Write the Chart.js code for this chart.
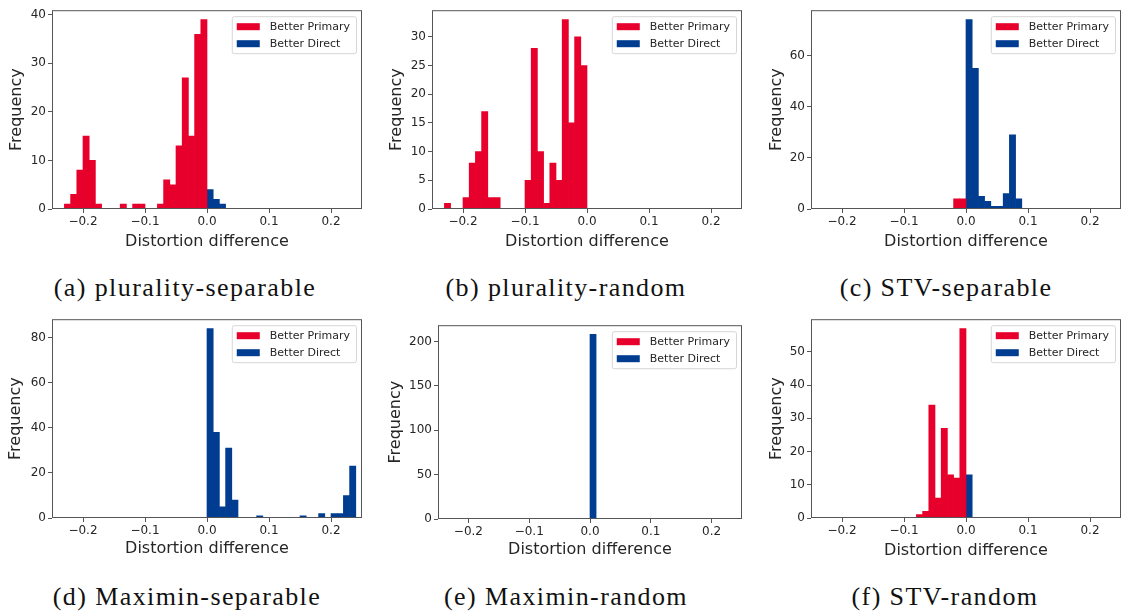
<!DOCTYPE html>
<html>
<head>
<meta charset="utf-8">
<script src="https://cdn.jsdelivr.net/npm/chart.js@4.4.1/dist/chart.umd.min.js"></script>
<style>
  body { margin: 0; background: #fff; width: 1122px; height: 613px; position: relative; overflow: hidden; }
  .panel { position: absolute; }
  .cap { position: absolute; width: 360px; height: 30px; line-height: 30px; text-align: center;
         font-family: "Liberation Serif", serif; font-size: 26px; letter-spacing: 1.4px; color: #111; white-space: nowrap; }
</style>
</head>
<body>
<script>
// histogram bins: left edge of each 0.01-wide bin and its count
const aPrimaryBins = [-0.23, -0.22, -0.21, -0.20, -0.19, -0.18, -0.14, -0.12, -0.11, -0.08, -0.07, -0.06, -0.05, -0.04, -0.03, -0.02, -0.01];
const aPrimaryCounts = [1, 3, 8, 15, 10, 1, 1, 1, 1, 1, 6, 5, 13, 27, 15, 36, 39];
const aDirectBins = [0.00, 0.01, 0.02];
const aDirectCounts = [4, 2, 1];

const bPrimaryBins = [-0.23, -0.20, -0.19, -0.18, -0.17, -0.16, -0.15, -0.10, -0.09, -0.08, -0.07, -0.06, -0.05, -0.04, -0.03, -0.02, -0.01];
const bPrimaryCounts = [1, 2, 8, 10, 17, 2, 2, 5, 28, 10, 1, 8, 5, 33, 15, 30, 25];
const bDirectBins = [];
const bDirectCounts = [];

const cPrimaryBins = [-0.02, -0.01];
const cPrimaryCounts = [4, 4];
const cDirectBins = [0.00, 0.01, 0.02, 0.03, 0.04, 0.05, 0.06, 0.07, 0.08];
const cDirectCounts = [74, 55, 5, 3, 1, 1, 6, 29, 4];

const dPrimaryBins = [];
const dPrimaryCounts = [];
const dDirectBins = [0.00, 0.01, 0.02, 0.03, 0.04, 0.08, 0.15, 0.18, 0.20, 0.21, 0.22, 0.23];
const dDirectCounts = [84, 38, 5, 31, 8, 1, 1, 2, 2, 2, 10, 23];

const ePrimaryBins = [];
const ePrimaryCounts = [];
const eDirectBins = [0.00];
const eDirectCounts = [208];

const fPrimaryBins = [-0.08, -0.07, -0.06, -0.05, -0.04, -0.03, -0.02, -0.01];
const fPrimaryCounts = [1, 2, 34, 6, 27, 13, 12, 57];
const fDirectBins = [0.00];
const fDirectCounts = [13];

const xTicks = [-0.2, -0.1, 0.0, 0.1, 0.2];
const aYTicks = [0, 10, 20, 30, 40];
const bYTicks = [0, 5, 10, 15, 20, 25, 30];
const cYTicks = [0, 20, 40, 60];
const dYTicks = [0, 20, 40, 60, 80];
const eYTicks = [0, 50, 100, 150, 200];
const fYTicks = [0, 10, 20, 30, 40, 50];

const captions = ["(a) plurality-separable", "(b) plurality-random", "(c) STV-separable",
                  "(d) Maximin-separable", "(e) Maximin-random", "(f) STV-random"];

const RED = "#e6002b";
const BLUE = "#003d91";
const X_MIN = -0.25, BIN_W = 0.01, BIN_COUNT = 50;

// one category per histogram bin, -0.25 .. 0.25
const binLabels = Array.from({ length: BIN_COUNT }, (_, i) => (X_MIN + (i + 0.5) * BIN_W).toFixed(3));

function toSeries(bins, counts) {
  const out = new Array(BIN_COUNT).fill(null);
  bins.forEach((b, i) => { out[Math.round((b - X_MIN) / BIN_W)] = counts[i]; });
  return out;
}

// legend box + axes frame, drawn inside the plot like matplotlib
const insideLegend = {
  id: "insideLegend",
  afterDraw(chart) {
    const { ctx, chartArea: a } = chart;
    const sets = chart.data.datasets;
    ctx.save();
    ctx.font = '11px "DejaVu Sans"';
    const tw = Math.max(...sets.map(d => ctx.measureText(d.label).width));
    const w = 5 + 23 + 10 + tw + 6, h = 37;
    const x = a.right - 6 - w, y = a.top + 6;
    ctx.beginPath();
    ctx.roundRect(x + 0.5, y + 0.5, w, h, 2);
    ctx.fillStyle = "rgba(255,255,255,0.85)";
    ctx.fill();
    ctx.strokeStyle = "#d6d6d6";
    ctx.lineWidth = 1;
    ctx.stroke();
    sets.forEach((d, i) => {
      const cy = y + 10 + i * 17;
      ctx.fillStyle = d.backgroundColor;
      ctx.fillRect(x + 5, cy - 3, 23, 7);
      ctx.fillStyle = "#262626";
      ctx.textBaseline = "middle";
      ctx.fillText(d.label, x + 38, cy + 0.5);
    });
    ctx.strokeStyle = "#555";
    ctx.strokeRect(a.left + 0.5, a.top + 0.5, a.width - 1, a.height - 1);
    ctx.restore();
  }
};

const fmtTick = v => v.toFixed(1).replace("-", "\u2212");

const panels = [
  { primary: [aPrimaryBins, aPrimaryCounts], direct: [aDirectBins, aDirectCounts], yTicks: aYTicks, box: [52, 7, 362, 209], canvas: [7, 1, 365, 251], cap: [185, 288] },
  { primary: [bPrimaryBins, bPrimaryCounts], direct: [bDirectBins, bDirectCounts], yTicks: bYTicks, box: [432, 7, 742, 209], canvas: [387, 1, 745, 251], cap: [566, 288] },
  { primary: [cPrimaryBins, cPrimaryCounts], direct: [cDirectBins, cDirectCounts], yTicks: cYTicks, box: [811, 7, 1121, 209], canvas: [767, 1, 1122, 251], cap: [946, 288] },
  { primary: [dPrimaryBins, dPrimaryCounts], direct: [dDirectBins, dDirectCounts], yTicks: dYTicks, box: [52, 316, 362, 518], canvas: [6, 310, 365, 558], cap: [187, 597] },
  { primary: [ePrimaryBins, ePrimaryCounts], direct: [eDirectBins, eDirectCounts], yTicks: eYTicks, box: [438, 322, 742, 519], canvas: [386, 316, 745, 559], cap: [566, 597] },
  { primary: [fPrimaryBins, fPrimaryCounts], direct: [fDirectBins, fDirectCounts], yTicks: fYTicks, box: [811, 316, 1121, 518], canvas: [767, 310, 1122, 560], cap: [945, 597] }
];

panels.forEach((p, k) => {
  const [bl, bt, br, bb] = p.box;
  const [cl, ct, cr, cb] = p.canvas;
  const div = document.createElement("div");
  div.className = "panel";
  div.style.left = cl + "px";
  div.style.top = ct + "px";
  div.style.width = (cr - cl) + "px";
  div.style.height = (cb - ct) + "px";
  const canvas = document.createElement("canvas");
  div.appendChild(canvas);
  document.body.appendChild(div);

  const cap = document.createElement("div");
  cap.className = "cap";
  cap.textContent = captions[k];
  cap.style.left = (p.cap[0] - 180) + "px";
  cap.style.top = (p.cap[1] - 15) + "px";
  document.body.appendChild(cap);

  const allCounts = p.primary[1].concat(p.direct[1]);
  const yMax = Math.max(...allCounts) * 1.05;

  new Chart(canvas, {
    type: "bar",
    data: {
      labels: binLabels,
      datasets: [
        { label: "Better Primary", data: toSeries(...p.primary), backgroundColor: RED, grouped: false,
          barPercentage: 1, categoryPercentage: 1, borderWidth: 0 },
        { label: "Better Direct", data: toSeries(...p.direct), backgroundColor: BLUE, grouped: false,
          barPercentage: 1, categoryPercentage: 1, borderWidth: 0 }
      ]
    },
    options: {
      responsive: true,
      maintainAspectRatio: false,
      animation: false,
      layout: { padding: { top: bt - ct, right: cr - br, left: 0, bottom: 0 } },
      plugins: { legend: { display: false }, tooltip: { enabled: false } },
      scales: {
        x: { type: "category", display: false, offset: true },
        xt: {
          type: "linear", position: "bottom", min: X_MIN, max: -X_MIN, offset: false,
          afterBuildTicks: s => { s.ticks = xTicks.map(v => ({ value: v })); },
          afterFit: s => { s.height = cb - bb; },
          grid: { offset: false, drawOnChartArea: false, drawTicks: true, tickLength: 4, color: "#555" },
          border: { display: false },
          ticks: { font: { family: "DejaVu Sans", size: 12 }, color: "#262626", padding: 2, maxRotation: 0, callback: fmtTick },
          title: { display: true, text: "Distortion difference", font: { family: "DejaVu Sans", size: 16 }, color: "#262626", padding: 0 }
        },
        y: {
          min: 0, max: yMax,
          afterBuildTicks: s => { s.ticks = p.yTicks.map(v => ({ value: v })); },
          afterFit: s => { s.width = bl - cl; },
          grid: { drawOnChartArea: false, drawTicks: true, tickLength: 4, color: "#555" },
          border: { display: false },
          ticks: { font: { family: "DejaVu Sans", size: 12 }, color: "#262626", padding: 2 },
          title: { display: true, text: "Frequency", font: { family: "DejaVu Sans", size: 16 }, color: "#262626", padding: 0 }
        }
      }
    },
    plugins: [insideLegend]
  });
});
</script>
</body>
</html>
